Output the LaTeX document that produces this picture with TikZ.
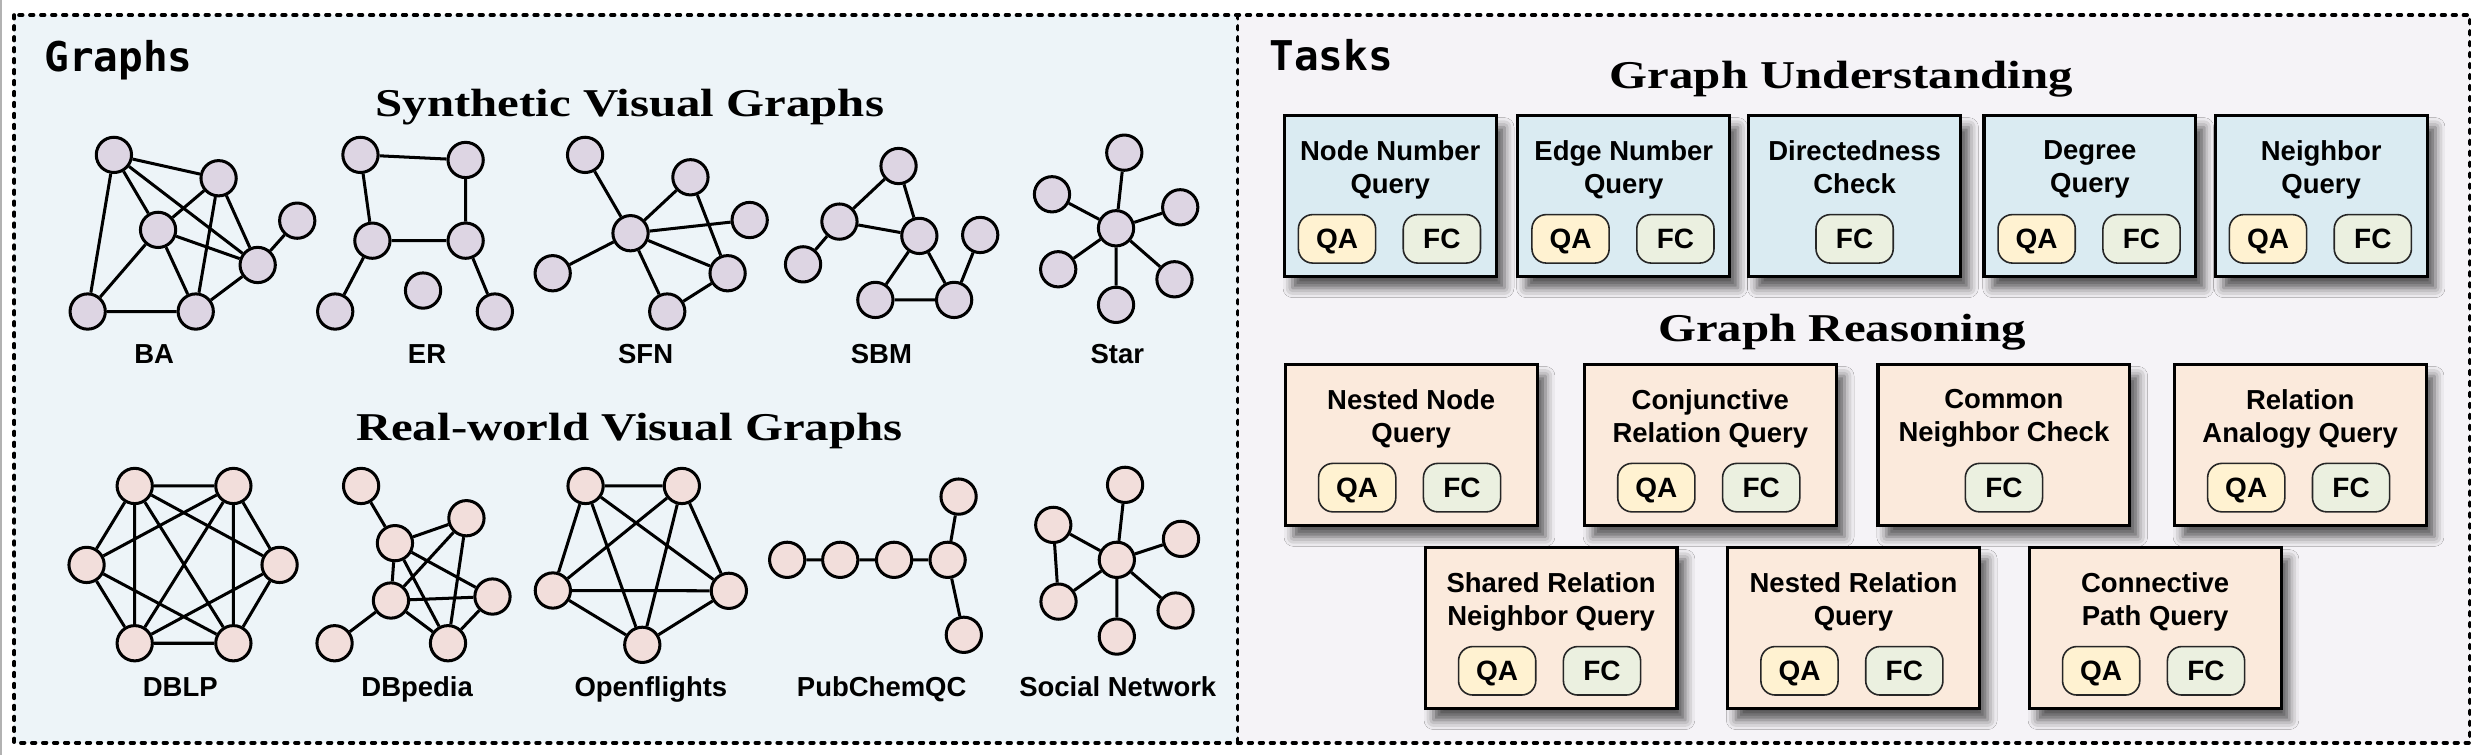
\documentclass[tikz,border=0pt]{standalone}
\usepackage{fontspec}
\setmainfont{Liberation Sans}
\newfontfamily\titlefont[FakeStretch=1.24]{Liberation Serif}
\newfontfamily\panelfont{DejaVu Sans Mono}
\usepackage{tikz}
\usetikzlibrary{positioning, calc, shadows.blur}

\definecolor{graphsbg}{HTML}{EDF4F8}
\definecolor{tasksbg}{HTML}{F5F3F7}
\definecolor{synthfill}{HTML}{DDD5E3}
\definecolor{realfill}{HTML}{F2DEDB}
\definecolor{understandfill}{HTML}{DAEBF2}
\definecolor{reasonfill}{HTML}{FBEADC}
\definecolor{qafill}{HTML}{FFF2D1}
\definecolor{fcfill}{HTML}{EBF0E0}

\tikzset{
    vnode/.style={draw, circle, line width=0.95pt, minimum size=11.1pt, inner sep=0pt},
    synnode/.style={vnode, fill=synthfill},
    realnode/.style={vnode, fill=realfill},
    gedge/.style={line width=0.95pt},
    gname/.style={anchor=base, font=\bfseries\fontsize{8.65}{10}\selectfont},
    heading/.style={anchor=base, font=\titlefont\bfseries\fontsize{12.4}{14}\selectfont},
    panelname/.style={anchor=base west, font=\panelfont\bfseries\fontsize{12.9}{14}\selectfont},
    panelline/.style={line width=1.2pt, dash pattern=on 1.1pt off 2.35pt, line cap=round},
    task/.style={draw, line width=1pt, minimum height=50.65pt, inner sep=0pt,
        blur shadow={shadow xshift=2.6pt, shadow yshift=-3.6pt, shadow blur radius=3pt, shadow opacity=65}},
    understand/.style={task, fill=understandfill, minimum width=66.7pt},
    reason/.style={task, fill=reasonfill, minimum width=79.25pt},
    taskname/.style={align=center, inner sep=0pt, font=\bfseries\fontsize{8.65}{10.25}\selectfont},
    pill/.style={draw=black!85, line width=0.5pt, rounded corners=4.5pt, minimum width=24.3pt,
        minimum height=15.25pt, inner sep=0pt, text height=6.3pt, text depth=0pt,
        font=\bfseries\fontsize{8.8}{10}\selectfont},
    qa/.style={pill, fill=qafill},
    fc/.style={pill, fill=fcfill}
}

\begin{document}
\begin{tikzpicture}[x=0.5pt, y=-0.5pt]
    \useasboundingbox (0,0) rectangle (1568,475);

    % panels
    \fill[graphsbg] (9,9.5) rectangle (779,467.6);
    \fill[tasksbg] (779,9.5) rectangle (1554.5,467.6);
    \draw[panelline] (9,9.5) rectangle (1554.5,467.6);
    \draw[panelline] (779,9.5) -- (779,467.6);
    \draw[gray!60, line width=0.6pt] (0.6,0) -- (0.6,475);

    \node[panelname] (graphsname) at (21,45.3) {Graphs};
    \node[panelname] (tasksname) at (792,44.5) {Tasks};

    \node[heading] (synthhead) at (396.5,73.6) {Synthetic Visual Graphs};
    \node[heading] (realhead) at (396.1,277.5) {Real-world Visual Graphs};
    \node[heading] (understandhead) at (1159,56) {Graph Understanding};
    \node[heading] (reasonhead) at (1159.5,215) {Graph Reasoning};

    % BA
    \node[synnode] (b1) at (71.7,97.5) {};
    \node[synnode] (b2) at (137.6,112.2) {};
    \node[synnode] (b3) at (99.5,144.7) {};
    \node[synnode] (b4) at (187.1,138.9) {};
    \node[synnode] (b5) at (162.2,166.8) {};
    \node[synnode] (b6) at (55.2,196.1) {};
    \node[synnode] (b7) at (123.2,196.1) {};
    \draw[gedge] (b1) -- (b2) (b1) -- (b3) (b1) -- (b5) (b1) -- (b6) (b2) -- (b3) (b2) -- (b7)
        (b2) -- (b5) (b3) -- (b6) (b3) -- (b5) (b3) -- (b7) (b6) -- (b7) (b7) -- (b5) (b5) -- (b4);
    \node[gname] (baname) at (97,229.1) {BA};

    % ER
    \node[synnode] (e1) at (226.9,97.5) {};
    \node[synnode] (e2) at (293.1,100.7) {};
    \node[synnode] (e3) at (234.4,151.5) {};
    \node[synnode] (e4) at (293.1,151.5) {};
    \node[synnode] (e5) at (266.3,182.9) {};
    \node[synnode] (e6) at (211,196.1) {};
    \node[synnode] (e7) at (311.5,196.1) {};
    \draw[gedge] (e1) -- (e2) (e1) -- (e3) (e2) -- (e4) (e3) -- (e4) (e3) -- (e6) (e4) -- (e7);
    \node[gname] (ername) at (268.8,229.1) {ER};

    % SFN
    \node[synnode] (s1) at (368.3,97.5) {};
    \node[synnode] (s2) at (396.9,146.8) {};
    \node[synnode] (s3) at (434.6,111.6) {};
    \node[synnode] (s4) at (471.9,138.5) {};
    \node[synnode] (s5) at (458,172) {};
    \node[synnode] (s6) at (420,196.1) {};
    \node[synnode] (s7) at (347.9,172) {};
    \draw[gedge] (s2) -- (s1) (s2) -- (s7) (s2) -- (s3) (s2) -- (s4) (s2) -- (s5) (s2) -- (s6)
        (s3) -- (s5) (s5) -- (s6);
    \node[gname] (sfnname) at (406.4,229.1) {SFN};

    % SBM
    \node[synnode] (m1) at (565.6,104.5) {};
    \node[synnode] (m2) at (528.4,139.5) {};
    \node[synnode] (m3) at (505.5,166.4) {};
    \node[synnode] (m4) at (578.7,148.5) {};
    \node[synnode] (m5) at (617,147.9) {};
    \node[synnode] (m6) at (551,188.8) {};
    \node[synnode] (m7) at (600.6,188.8) {};
    \draw[gedge] (m1) -- (m2) (m1) -- (m4) (m2) -- (m3) (m2) -- (m4) (m4) -- (m6) (m4) -- (m7)
        (m6) -- (m7) (m7) -- (m5);
    \node[gname] (sbmname) at (554.8,229.1) {SBM};

    % Star
    \node[synnode] (t0) at (702.5,143.7) {};
    \node[synnode] (t1) at (707.7,96.1) {};
    \node[synnode] (t2) at (662.2,122.3) {};
    \node[synnode] (t3) at (742.9,130.5) {};
    \node[synnode] (t4) at (666.1,169.5) {};
    \node[synnode] (t5) at (739.3,175.8) {};
    \node[synnode] (t6) at (702.5,191.9) {};
    \draw[gedge] (t0) -- (t1) (t0) -- (t2) (t0) -- (t3) (t0) -- (t4) (t0) -- (t5) (t0) -- (t6);
    \node[gname] (starname) at (703.3,229.1) {Star};

    % DBLP
    \node[realnode] (d1) at (84.8,305.9) {};
    \node[realnode] (d2) at (146.9,305.9) {};
    \node[realnode] (d3) at (54.5,355.6) {};
    \node[realnode] (d4) at (176,355.6) {};
    \node[realnode] (d5) at (84.8,404.9) {};
    \node[realnode] (d6) at (146.9,404.9) {};
    \draw[gedge] (d1) -- (d2) (d1) -- (d3) (d1) -- (d4) (d1) -- (d5) (d1) -- (d6) (d2) -- (d3)
        (d2) -- (d4) (d2) -- (d5) (d2) -- (d6) (d3) -- (d5) (d3) -- (d6) (d4) -- (d5) (d4) -- (d6)
        (d5) -- (d6);
    \node[gname] (dblpname) at (113.5,438.4) {DBLP};

    % DBpedia
    \node[realnode] (p1) at (227.3,305.9) {};
    \node[realnode] (p2) at (248.6,341.9) {};
    \node[realnode] (p3) at (293.6,326.2) {};
    \node[realnode] (p4) at (246.1,378) {};
    \node[realnode] (p5) at (310,375.5) {};
    \node[realnode] (p6) at (210.6,404.9) {};
    \node[realnode] (p7) at (282,404.9) {};
    \draw[gedge] (p1) -- (p2) (p2) -- (p3) (p2) -- (p4) (p2) -- (p5) (p2) -- (p7) (p3) -- (p4)
        (p3) -- (p7) (p4) -- (p5) (p4) -- (p6) (p4) -- (p7) (p5) -- (p7);
    \node[gname] (dbpedianame) at (262.6,438.4) {DBpedia};

    % Openflights
    \node[realnode] (o1) at (368.6,305.9) {};
    \node[realnode] (o2) at (429.2,305.9) {};
    \node[realnode] (o3) at (348,371.7) {};
    \node[realnode] (o4) at (458.8,371.9) {};
    \node[realnode] (o5) at (404.3,405.9) {};
    \draw[gedge] (o1) -- (o2) (o1) -- (o3) (o1) -- (o4) (o1) -- (o5) (o2) -- (o3) (o2) -- (o4)
        (o2) -- (o5) (o3) -- (o4) (o3) -- (o5) (o4) -- (o5);
    \node[gname] (openname) at (409.7,438.4) {Openflights};

    % PubChemQC
    \node[realnode] (c1) at (495.5,352.4) {};
    \node[realnode] (c2) at (528.9,352.4) {};
    \node[realnode] (c3) at (562.8,352.4) {};
    \node[realnode] (c4) at (596.5,352.4) {};
    \node[realnode] (c5) at (603.4,312.6) {};
    \node[realnode] (c6) at (606.7,399.6) {};
    \draw[gedge] (c1) -- (c2) (c2) -- (c3) (c3) -- (c4) (c4) -- (c5) (c4) -- (c6);
    \node[gname] (pubchemname) at (555,438.4) {PubChemQC};

    % Social Network
    \node[realnode] (n0) at (703,352.4) {};
    \node[realnode] (n1) at (708.2,305.2) {};
    \node[realnode] (n2) at (663,330.4) {};
    \node[realnode] (n3) at (743.4,339.2) {};
    \node[realnode] (n4) at (666.3,378.7) {};
    \node[realnode] (n5) at (740,384.3) {};
    \node[realnode] (n6) at (703,400.7) {};
    \draw[gedge] (n0) -- (n1) (n0) -- (n2) (n0) -- (n3) (n0) -- (n4) (n0) -- (n5) (n0) -- (n6)
        (n2) -- (n4);
    \node[gname] (socialname) at (703.6,438.4) {Social Network};

    % graph understanding
    \node[understand] (nnq) at (875.1,123.5) {};
    \node[taskname, below=8.25pt of nnq.north] (nnqname) {Node Number\\Query};
    \node[qa] (nnqqa) at ($(nnq.north)+(-33.5,78.5)$) {QA};
    \node[fc] (nnqfc) at ($(nnq.north)+(32.5,78.5)$) {FC};

    \node[understand] (enq) at (1022.1,123.5) {};
    \node[taskname, below=8.25pt of enq.north] (enqname) {Edge Number\\Query};
    \node[qa] (enqqa) at ($(enq.north)+(-33.5,78.5)$) {QA};
    \node[fc] (enqfc) at ($(enq.north)+(32.5,78.5)$) {FC};

    \node[understand] (dc) at (1167.4,123.5) {};
    \node[taskname, below=8.25pt of dc.north] (dcname) {Directedness\\Check};
    \node[fc] (dcfc) at ($(dc.north)+(0,78.5)$) {FC};

    \node[understand] (dq) at (1315.5,123.5) {};
    \node[taskname, below=8.25pt of dq.north] (dqname) {Degree\\Query};
    \node[qa] (dqqa) at ($(dq.north)+(-33.5,78.5)$) {QA};
    \node[fc] (dqfc) at ($(dq.north)+(32.5,78.5)$) {FC};

    \node[understand] (nq) at (1461.1,123.5) {};
    \node[taskname, below=8.25pt of nq.north] (nqname) {Neighbor\\Query};
    \node[qa] (nqqa) at ($(nq.north)+(-33.5,78.5)$) {QA};
    \node[fc] (nqfc) at ($(nq.north)+(32.5,78.5)$) {FC};

    % graph reasoning
    \node[reason] (nnoq) at (888.3,280.1) {};
    \node[taskname, below=8.25pt of nnoq.north] (nnoqname) {Nested Node\\Query};
    \node[qa] (nnoqqa) at ($(nnoq.north)+(-34,78.5)$) {QA};
    \node[fc] (nnoqfc) at ($(nnoq.north)+(32,78.5)$) {FC};

    \node[reason] (crq) at (1076.6,280.1) {};
    \node[taskname, below=8.25pt of crq.north] (crqname) {Conjunctive\\Relation Query};
    \node[qa] (crqqa) at ($(crq.north)+(-34,78.5)$) {QA};
    \node[fc] (crqfc) at ($(crq.north)+(32,78.5)$) {FC};

    \node[reason] (cnc) at (1261.4,280.1) {};
    \node[taskname, below=8.25pt of cnc.north] (cncname) {Common\\Neighbor Check};
    \node[fc] (cncfc) at ($(cnc.north)+(0,78.5)$) {FC};

    \node[reason] (raq) at (1447.9,280.1) {};
    \node[taskname, below=8.25pt of raq.north] (raqname) {Relation\\Analogy Query};
    \node[qa] (raqqa) at ($(raq.north)+(-34,78.5)$) {QA};
    \node[fc] (raqfc) at ($(raq.north)+(32,78.5)$) {FC};

    \node[reason] (srnq) at (976.4,395.4) {};
    \node[taskname, below=8.25pt of srnq.north] (srnqname) {Shared Relation\\Neighbor Query};
    \node[qa] (srnqqa) at ($(srnq.north)+(-34,78.5)$) {QA};
    \node[fc] (srnqfc) at ($(srnq.north)+(32,78.5)$) {FC};

    \node[reason] (nrq) at (1166.7,395.4) {};
    \node[taskname, below=8.25pt of nrq.north] (nrqname) {Nested Relation\\Query};
    \node[qa] (nrqqa) at ($(nrq.north)+(-34,78.5)$) {QA};
    \node[fc] (nrqfc) at ($(nrq.north)+(32,78.5)$) {FC};

    \node[reason] (cpq) at (1356.6,395.4) {};
    \node[taskname, below=8.25pt of cpq.north] (cpqname) {Connective\\Path Query};
    \node[qa] (cpqqa) at ($(cpq.north)+(-34,78.5)$) {QA};
    \node[fc] (cpqfc) at ($(cpq.north)+(32,78.5)$) {FC};
\end{tikzpicture}
\end{document}
